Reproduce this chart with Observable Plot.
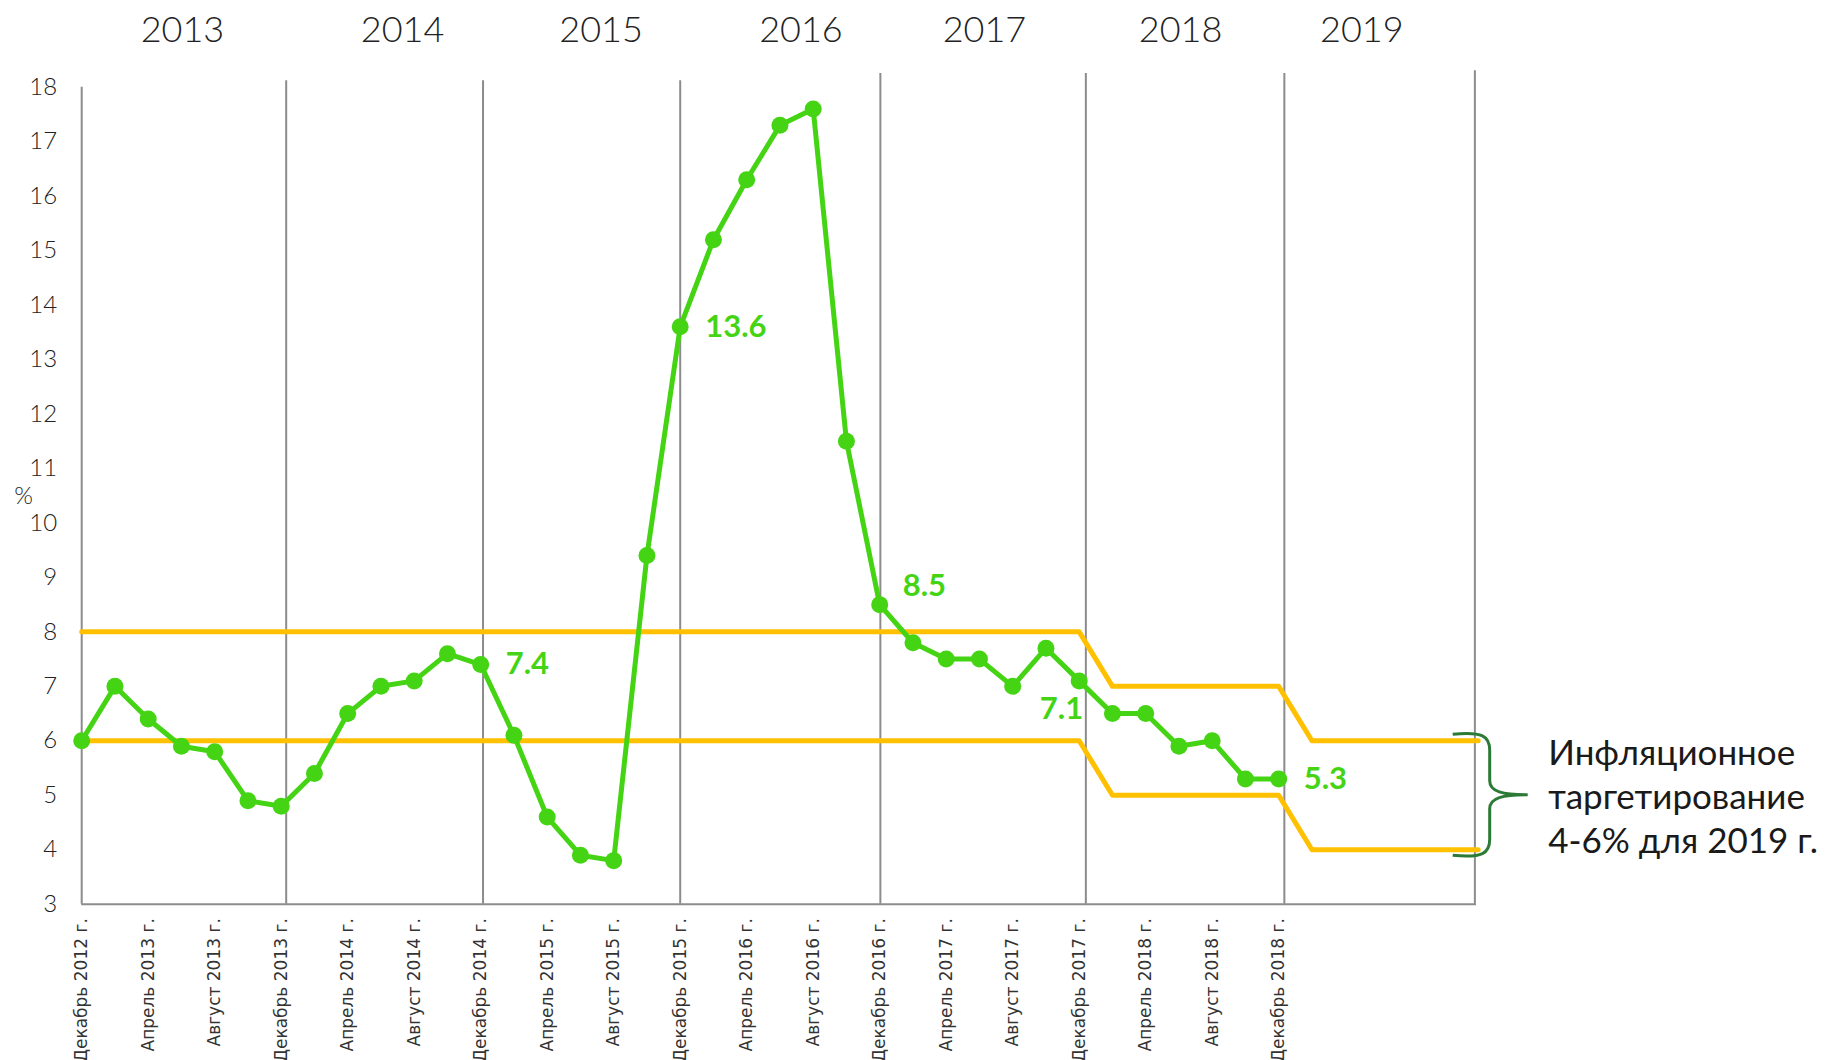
<!DOCTYPE html>
<html><head><meta charset="utf-8">
<script src="https://cdn.jsdelivr.net/npm/d3@7"></script>
<script src="https://cdn.jsdelivr.net/npm/@observablehq/plot@0.6"></script>
<style>
html,body{margin:0;padding:0;background:#fff;}
#chart svg{display:block;}
</style></head><body><div id="chart"></div>
<script>
// Inflation, % y/y, every two months from Dec 2012 (index 0) to Dec 2018 (index 36)
const inflation = [6.0,7.0,6.4,5.9,5.8,4.9,4.8,5.4,6.5,7.0,7.1,7.6,7.4,6.1,4.6,3.9,3.8,9.4,13.6,15.2,16.3,17.3,17.6,11.5,8.5,7.8,7.5,7.5,7.0,7.7,7.1,6.5,6.5,5.9,6.0,5.3,5.3];
const tickLabels = ["Декабрь 2012 г.","Апрель 2013 г.","Август 2013 г.","Декабрь 2013 г.","Апрель 2014 г.","Август 2014 г.","Декабрь 2014 г.","Апрель 2015 г.","Август 2015 г.","Декабрь 2015 г.","Апрель 2016 г.","Август 2016 г.","Декабрь 2016 г.","Апрель 2017 г.","Август 2017 г.","Декабрь 2017 г.","Апрель 2018 г.","Август 2018 г.","Декабрь 2018 г."];
const tickIndex = [0,2,4,6,8,10,12,14,16,18,20,22,24,26,28,30,32,34,36];
const years = ["2013","2014","2015","2016","2017","2018","2019"];
const yearCenters = [3.03,9.65,15.62,21.63,27.15,33.05,38.5];
const yearDividers = [0,6.15,12.07,18,24.02,30.2,36.17,41.9];
const dividerTops = [18.0,18.12,18.12,18.12,18.25,18.25,18.25,18.3];
const targetIndex = [0,30,31,36,37,42];
const targetUpper = [8,8,7,7,6,6];
const targetLower = [6,6,5,5,4,4];
const yTicks = [3,4,5,6,7,8,9,10,11,12,13,14,15,16,17,18];
const labelsRight = [12,18,36];
const labelsAbove = [24];
const labelsBelow = [30];
const annotation = "Инфляционное\nтаргетирование\n4-6% для 2019 г.";

const GREEN = "#44d414", GOLD = "#ffc000", GRID = "#8c8c8c", INK = "#222";
const series = inflation.map((v, i) => ({i, v}));
const upper = targetIndex.map((i, k) => ({i, v: targetUpper[k]}));
const lower = targetIndex.map((i, k) => ({i, v: targetLower[k]}));
const ticks = tickIndex.map((i, k) => ({i, label: tickLabels[k]}));
const pick = idx => idx.map(i => series[i]);
const fmt = d => d.v.toFixed(1);
const lblStyle = {fill: GREEN, fontSize: 31, fontWeight: 700, fontFamily: "Lato"};

const chart = Plot.plot({
  width: 1843, height: 1060,
  marginLeft: 81.2, marginRight: 365.3, marginTop: 86.7, marginBottom: 156.3,
  x: {domain: [0, 42], axis: null},
  y: {domain: [3, 18], axis: null},
  style: {background: "#fff", fontFamily: "Lato", overflow: "visible"},
  marks: [
    Plot.ruleX(yearDividers, {x: d => d, y1: 3, y2: (d, k) => dividerTops[k], stroke: GRID, strokeWidth: 2}),
    Plot.ruleY([3], {x1: 0, x2: 41.95, stroke: GRID, strokeWidth: 2}),
    Plot.line(upper, {x: "i", y: "v", stroke: GOLD, strokeWidth: 5}),
    Plot.line(lower, {x: "i", y: "v", stroke: GOLD, strokeWidth: 5}),
    Plot.line(series, {x: "i", y: "v", stroke: GREEN, strokeWidth: 5}),
    Plot.dot(series, {x: "i", y: "v", r: 8.5, fill: GREEN}),
    Plot.text(pick(labelsRight), {x: "i", y: "v", text: fmt, dx: 25, textAnchor: "start", ...lblStyle}),
    Plot.text(pick(labelsAbove), {x: "i", y: "v", text: fmt, dx: 23, dy: -19, textAnchor: "start", ...lblStyle}),
    Plot.text(pick(labelsBelow), {x: "i", y: "v", text: fmt, dx: 4, dy: 28, textAnchor: "end", ...lblStyle}),
    Plot.text(yTicks, {x: 0, y: d => d, text: d => String(d), dx: -24.5, textAnchor: "end", fontSize: 24, fontWeight: 300, fill: INK, fontFamily: "Lato"}),
    Plot.text(["%"], {x: 0, y: 10.49, text: d => d, dx: -58, textAnchor: "middle", fontSize: 24, fontWeight: 300, fill: INK, fontFamily: "Lato"}),
    Plot.text(ticks, {x: "i", y: 3, text: "label", rotate: -90, textAnchor: "end", dy: 14, fontSize: 17, fill: "#333", fontFamily: "DejaVu Sans"}),
    Plot.text(years, {x: (d, k) => yearCenters[k], y: 19.05, text: d => d, fontSize: 36, fontWeight: 300, fill: INK, fontFamily: "Lato"}),
    Plot.text([annotation], {x: 42, y: 5, text: d => d, dx: 70, textAnchor: "start", lineHeight: 1.26, fontSize: 35, fill: "#1a1a1a", fontFamily: "Lato"})
  ]
});
document.getElementById("chart").appendChild(chart);

// Curly brace beside the 2019 target band, placed through the chart's scales
const X = chart.scale("x"), Y = chart.scale("y");
const sx = d3.scaleLinear(X.domain, X.range), sy = d3.scaleLinear(Y.domain, Y.range);
const x0 = sx(42), t = sy(6) - 6, m = sy(5), b = sy(4) + 6;
const p = d3.path();
p.moveTo(x0 - 25, t);
p.bezierCurveTo(x0 + 5, t - 3, x0 + 12, t + 2, x0 + 12, t + 16);
p.lineTo(x0 + 12, m - 14);
p.bezierCurveTo(x0 + 12, m - 3, x0 + 25, m, x0 + 50, m);
p.bezierCurveTo(x0 + 25, m, x0 + 12, m + 3, x0 + 12, m + 14);
p.lineTo(x0 + 12, b - 16);
p.bezierCurveTo(x0 + 12, b - 2, x0 + 5, b + 3, x0 - 25, b);
d3.select(chart).append("path").attr("d", p.toString())
  .attr("fill", "none").attr("stroke", "#2b7a35").attr("stroke-width", 3);
</script>
</body></html>
